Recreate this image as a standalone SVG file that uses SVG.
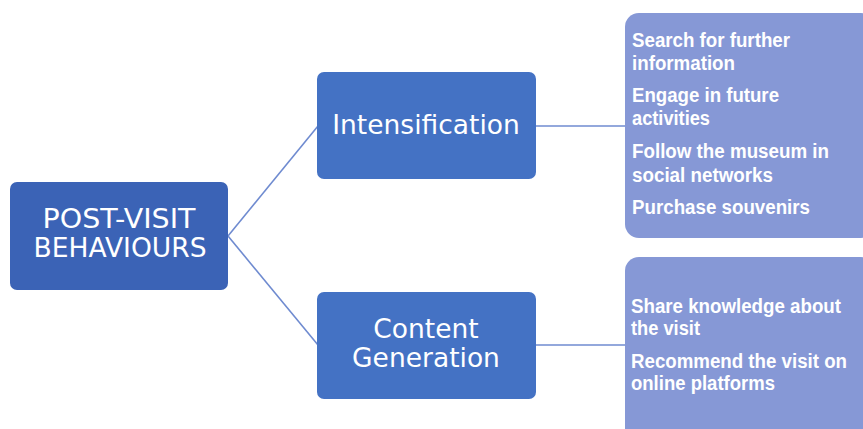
<svg xmlns="http://www.w3.org/2000/svg" width="863" height="429" viewBox="0 0 863 429">
<style>
.main{fill:#4472c4;}
.root{fill:#3b63b6;}
.sub{fill:#8698d6;}
.t1{font-family:"DejaVu Sans",Verdana,sans-serif;font-size:26.5px;fill:#ffffff;text-anchor:middle;}
.t2{font-family:"Liberation Sans",Arial,sans-serif;font-weight:bold;font-size:20px;fill:#ffffff;}
.c{stroke:#6f8bd0;stroke-width:1.6;fill:none;}
</style>
<rect width="863" height="429" fill="#ffffff"/>
<g id="connectors">
<line class="c" x1="228" y1="236" x2="318" y2="126"/>
<line class="c" x1="228" y1="236" x2="318" y2="345"/>
<line class="c" x1="535" y1="126" x2="626" y2="126"/>
<line class="c" x1="535" y1="345" x2="626" y2="345"/>
</g>
<g id="root">
<rect class="root" x="10" y="182" width="218" height="108" rx="7"/>
<text class="t1" x="119" y="228" textLength="153" lengthAdjust="spacingAndGlyphs">POST-VISIT</text>
<text class="t1" x="120" y="257" textLength="173" lengthAdjust="spacingAndGlyphs">BEHAVIOURS</text>
</g>
<g id="intensification">
<rect class="main" x="317" y="72" width="219" height="107" rx="7"/>
<text class="t1" x="426" y="134">Intensification</text>
</g>
<g id="content-generation">
<rect class="main" x="317" y="292" width="219" height="107" rx="7"/>
<text class="t1" x="426" y="338">Content</text>
<text class="t1" x="426" y="367">Generation</text>
</g>
<g id="intensification-items">
<rect class="sub" x="625" y="13" width="250" height="225" rx="14"/>
<text class="t2" x="632" y="47" textLength="158" lengthAdjust="spacingAndGlyphs">Search for further</text>
<text class="t2" x="632" y="70" textLength="103" lengthAdjust="spacingAndGlyphs">information</text>
<text class="t2" x="632" y="102" textLength="147" lengthAdjust="spacingAndGlyphs">Engage in future</text>
<text class="t2" x="632" y="125" textLength="78" lengthAdjust="spacingAndGlyphs">activities</text>
<text class="t2" x="632" y="158" textLength="197" lengthAdjust="spacingAndGlyphs">Follow the museum in</text>
<text class="t2" x="632" y="182" textLength="141" lengthAdjust="spacingAndGlyphs">social networks</text>
<text class="t2" x="632" y="214" textLength="178" lengthAdjust="spacingAndGlyphs">Purchase souvenirs</text>
</g>
<g id="content-items">
<rect class="sub" x="625" y="257" width="250" height="190" rx="14"/>
<text class="t2" x="631" y="313" textLength="210" lengthAdjust="spacingAndGlyphs">Share knowledge about</text>
<text class="t2" x="631" y="335" textLength="69" lengthAdjust="spacingAndGlyphs">the visit</text>
<text class="t2" x="631" y="368" textLength="216" lengthAdjust="spacingAndGlyphs">Recommend the visit on</text>
<text class="t2" x="631" y="390" textLength="144" lengthAdjust="spacingAndGlyphs">online platforms</text>
</g>
</svg>
